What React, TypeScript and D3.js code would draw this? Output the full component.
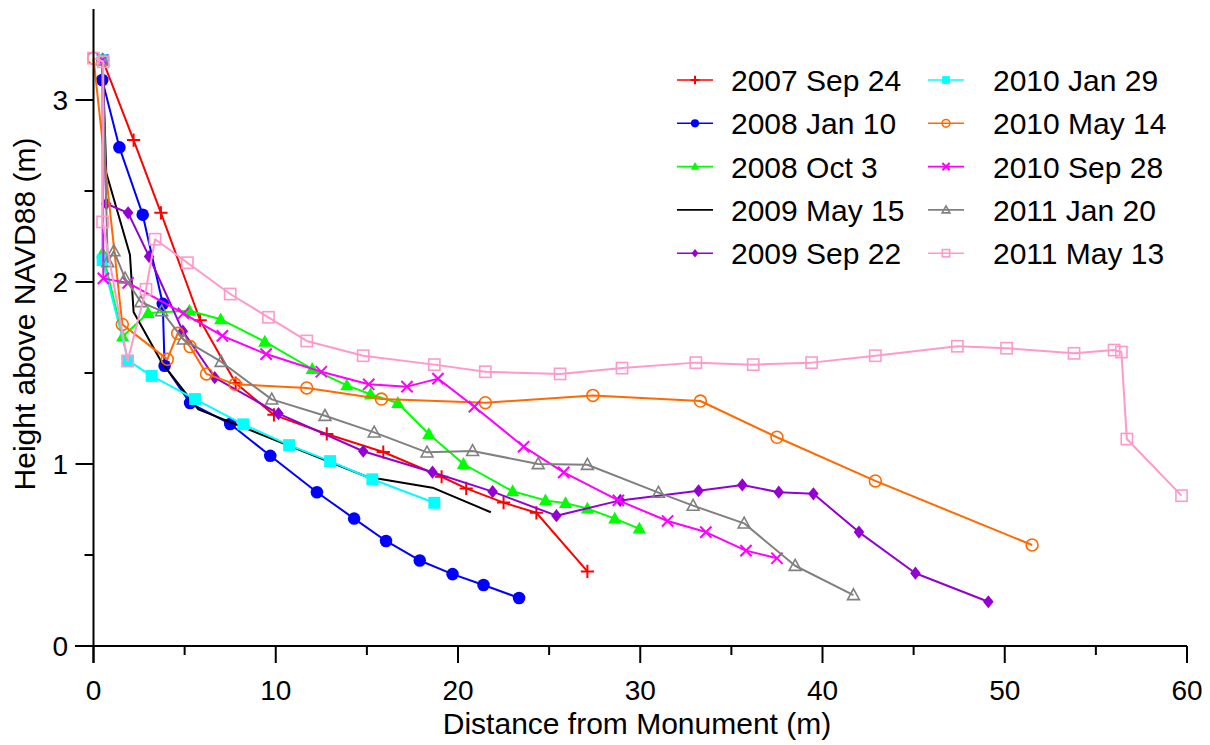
import React from 'react';
import * as d3 from 'd3';

type Pt = [number, number];

const seriesNames = [
  '2007 Sep 24', '2008 Jan 10', '2008 Oct 3', '2009 May 15', '2009 Sep 22',
  '2010 Jan 29', '2010 May 14', '2010 Sep 28', '2011 Jan 20', '2011 May 13',
];
const seriesColors = [
  '#FF0000', '#0000FF', '#00FF00', '#000000', '#9400D3',
  '#00FFFF', '#FF6A00', '#FF00FF', '#808080', '#FF99CC',
];
const seriesMarkers = [
  'plus', 'circle', 'triangle', 'none', 'diamond',
  'square', 'ocircle', 'x', 'otriangle', 'osquare',
];

const s2007Sep24: Pt[] = [
  [0.5, 3.22], [2.2, 2.78], [3.7, 2.38], [5.85, 1.79], [7.8, 1.445], [9.9, 1.27],
  [12.8, 1.165], [15.9, 1.066], [19.1, 0.93], [20.45, 0.866], [22.5, 0.788],
  [24.3, 0.732], [27.1, 0.41],
];
const s2008Jan10: Pt[] = [
  [0.5, 3.22], [0.48, 3.11], [1.42, 2.74], [2.7, 2.37], [3.8, 1.88], [3.9, 1.54],
  [5.3, 1.335], [7.5, 1.22], [9.7, 1.045], [12.26, 0.845], [14.3, 0.70],
  [16.05, 0.577], [17.9, 0.47], [19.7, 0.395], [21.4, 0.335], [23.35, 0.264],
];
const s2008Oct3: Pt[] = [
  [0.5, 3.22], [0.5, 2.16], [1.6, 1.70], [3.0, 1.83], [5.26, 1.842], [6.98, 1.795],
  [9.4, 1.672], [12.0, 1.522], [13.9, 1.432], [15.2, 1.383], [16.7, 1.335],
  [18.4, 1.165], [20.3, 1.0], [23.0, 0.85], [24.8, 0.80], [25.9, 0.785],
  [27.1, 0.755], [28.6, 0.70], [29.95, 0.645],
];
const s2009May15: Pt[] = [
  [0.5, 3.22], [0.7, 2.6], [2.0, 2.15], [2.2, 1.835], [3.76, 1.555], [5.75, 1.30],
  [15.0, 0.93], [18.6, 0.87], [21.8, 0.735],
];
const s2009Sep22: Pt[] = [
  [0.5, 3.22], [0.7, 2.43], [1.9, 2.38], [3.05, 2.14], [4.9, 1.73], [6.65, 1.475],
  [10.15, 1.277], [14.8, 1.07], [18.6, 0.955], [21.9, 0.848], [25.4, 0.716],
  [28.9, 0.80], [33.2, 0.853], [35.6, 0.885], [37.6, 0.845], [39.5, 0.836],
  [42.0, 0.626], [45.1, 0.40], [49.1, 0.243],
];
const s2010Jan29: Pt[] = [
  [0.5, 3.22], [0.5, 2.12], [1.9, 1.568], [3.19, 1.484], [5.57, 1.357],
  [8.22, 1.218], [10.73, 1.104], [12.98, 1.016], [15.3, 0.916], [18.7, 0.787],
];
const s2010May14: Pt[] = [
  [0.0, 3.23], [1.58, 1.767], [4.05, 1.575], [4.62, 1.718], [5.3, 1.645],
  [6.2, 1.495], [7.77, 1.438], [11.7, 1.418], [15.8, 1.357], [21.5, 1.337],
  [27.4, 1.377], [33.3, 1.346], [37.5, 1.147], [42.9, 0.907], [51.5, 0.555],
];
const s2010Sep28: Pt[] = [
  [0.5, 3.22], [0.54, 2.02], [1.9, 1.995], [4.93, 1.828], [7.07, 1.704],
  [9.47, 1.604], [12.5, 1.507], [15.1, 1.438], [17.2, 1.425], [18.9, 1.469],
  [20.9, 1.315], [23.6, 1.095], [25.8, 0.954], [28.8, 0.80], [31.5, 0.687],
  [33.6, 0.626], [35.8, 0.524], [37.5, 0.482],
];
const s2011Jan20: Pt[] = [
  [0.5, 3.22], [0.78, 2.11], [1.12, 2.17], [1.73, 2.02], [2.6, 1.89], [3.74, 1.84],
  [4.93, 1.685], [7.0, 1.562], [9.78, 1.355], [12.7, 1.265], [15.4, 1.174],
  [18.3, 1.064], [20.8, 1.072], [24.4, 1.0], [27.1, 0.996], [31.0, 0.843],
  [32.9, 0.771], [35.7, 0.674], [38.5, 0.441], [41.7, 0.28],
];
const s2011May13: Pt[] = [
  [0.0, 3.23], [0.54, 3.21], [0.5, 2.33], [1.87, 1.566], [2.88, 1.96],
  [3.38, 2.235], [5.15, 2.106], [7.5, 1.934], [9.6, 1.806], [11.7, 1.676],
  [14.8, 1.595], [18.7, 1.546], [21.5, 1.507], [25.6, 1.495], [29.0, 1.527],
  [33.05, 1.557], [36.2, 1.546], [39.4, 1.557], [42.9, 1.595], [47.4, 1.647],
  [50.1, 1.636], [53.8, 1.608], [56.0, 1.626], [56.4, 1.615], [56.7, 1.137],
  [59.7, 0.826],
];

const seriesData: Pt[][] = [
  s2007Sep24, s2008Jan10, s2008Oct3, s2009May15, s2009Sep22,
  s2010Jan29, s2010May14, s2010Sep28, s2011Jan20, s2011May13,
];

const xMajorTicks = [0, 10, 20, 30, 40, 50, 60];
const xMinorTicks = [5, 15, 25, 35, 45, 55];
const yMajorTicks = [0, 1, 2, 3];
const yMinorTicks = [0.5, 1.5, 2.5];

const xTitle = 'Distance from Monument (m)';
const yTitle = 'Height above NAVD88 (m)';

const FONT = '"Liberation Sans", Arial, sans-serif';

function Marker({ type, x, y, color, s }: { type: string; x: number; y: number; color: string; s: number }) {
  switch (type) {
    case 'plus':
      return <path d={`M${x - s},${y}H${x + s}M${x},${y - s}V${y + s}`} stroke={color} strokeWidth={2} fill="none" />;
    case 'x': {
      const k = s * 0.85;
      return <path d={`M${x - k},${y - k}L${x + k},${y + k}M${x - k},${y + k}L${x + k},${y - k}`} stroke={color} strokeWidth={2} fill="none" />;
    }
    case 'circle':
      return <circle cx={x} cy={y} r={s * 0.95} fill={color} />;
    case 'ocircle':
      return <circle cx={x} cy={y} r={s * 0.9} fill="none" stroke={color} strokeWidth={1.6} />;
    case 'triangle':
      return <polygon points={`${x},${y - s * 1.05} ${x + s},${y + s * 0.75} ${x - s},${y + s * 0.75}`} fill={color} />;
    case 'otriangle':
      return <polygon points={`${x},${y - s * 0.95} ${x + s * 0.9},${y + s * 0.7} ${x - s * 0.9},${y + s * 0.7}`} fill="none" stroke={color} strokeWidth={1.6} />;
    case 'diamond':
      return <polygon points={`${x},${y - s} ${x + s * 0.8},${y} ${x},${y + s} ${x - s * 0.8},${y}`} fill={color} />;
    case 'square':
      return <rect x={x - s * 0.9} y={y - s * 0.9} width={s * 1.8} height={s * 1.8} fill={color} />;
    case 'osquare':
      return <rect x={x - s * 0.85} y={y - s * 0.85} width={s * 1.7} height={s * 1.7} fill="none" stroke={color} strokeWidth={1.6} />;
    default:
      return null;
  }
}

export default function App() {
  const W = 1210;
  const H = 745;
  const x = d3.scaleLinear().domain([0, 60]).range([93.5, 1187]);
  const y = d3.scaleLinear().domain([0, 3.5]).range([646, 9]);
  const line = d3.line<Pt>().x((d) => x(d[0])).y((d) => y(d[1]));

  const legendRowY = (i: number) => 80 + i * 43.3;
  const legendCols = [{ x1: 677, x2: 713, tx: 731 }, { x1: 928, x2: 964, tx: 993 }];

  return (
    <svg width={W} height={H} style={{ position: 'absolute', left: 0, top: 0, background: '#fff' }} fontFamily={FONT}>
      <rect x={0} y={0} width={W} height={H} fill="#fff" />
      {seriesData.map((data, i) => (
        <g key={seriesNames[i]}>
          <path d={line(data) || ''} fill="none" stroke={seriesColors[i]} strokeWidth={2} strokeLinejoin="round" />
          {data.map((d, j) => (
            <Marker key={j} type={seriesMarkers[i]} x={x(d[0])} y={y(d[1])} color={seriesColors[i]} s={6.6} />
          ))}
        </g>
      ))}
      <line x1={x(0)} x2={x(0)} y1={y(3.5)} y2={663} stroke="#000" strokeWidth={2} />
      <line x1={75} x2={x(60)} y1={y(0)} y2={y(0)} stroke="#000" strokeWidth={2} />
      {xMajorTicks.map((t) => (
        <g key={'xm' + t}>
          <line x1={x(t)} x2={x(t)} y1={y(0)} y2={y(0) + 17} stroke="#000" strokeWidth={2} />
          <text x={x(t)} y={700} fontSize={28} textAnchor="middle" fill="#000">{t}</text>
        </g>
      ))}
      {xMinorTicks.map((t) => (
        <line key={'xn' + t} x1={x(t)} x2={x(t)} y1={y(0)} y2={y(0) + 9} stroke="#000" strokeWidth={2} />
      ))}
      {yMajorTicks.map((t) => (
        <g key={'ym' + t}>
          <line x1={x(0) - 18} x2={x(0)} y1={y(t)} y2={y(t)} stroke="#000" strokeWidth={2} />
          <text x={68} y={y(t) + 10} fontSize={28} textAnchor="end" fill="#000">{t}</text>
        </g>
      ))}
      {yMinorTicks.map((t) => (
        <line key={'yn' + t} x1={x(0) - 9} x2={x(0)} y1={y(t)} y2={y(t)} stroke="#000" strokeWidth={2} />
      ))}
      <text x={637} y={734} fontSize={30} textAnchor="middle" fill="#000">{xTitle}</text>
      <text transform={`translate(35,${314}) rotate(-90)`} fontSize={30} textAnchor="middle" fill="#000">{yTitle}</text>
      {seriesNames.map((name, i) => {
        const col = legendCols[Math.floor(i / 5)];
        const ry = legendRowY(i % 5);
        return (
          <g key={'lg' + name}>
            <line x1={col.x1} x2={col.x2} y1={ry} y2={ry} stroke={seriesColors[i]} strokeWidth={1.6} />
            <Marker type={seriesMarkers[i]} x={(col.x1 + col.x2) / 2} y={ry} color={seriesColors[i]} s={4.3} />
            <text x={col.tx} y={ry + 11} fontSize={30} fill="#000">{name}</text>
          </g>
        );
      })}
    </svg>
  );
}
